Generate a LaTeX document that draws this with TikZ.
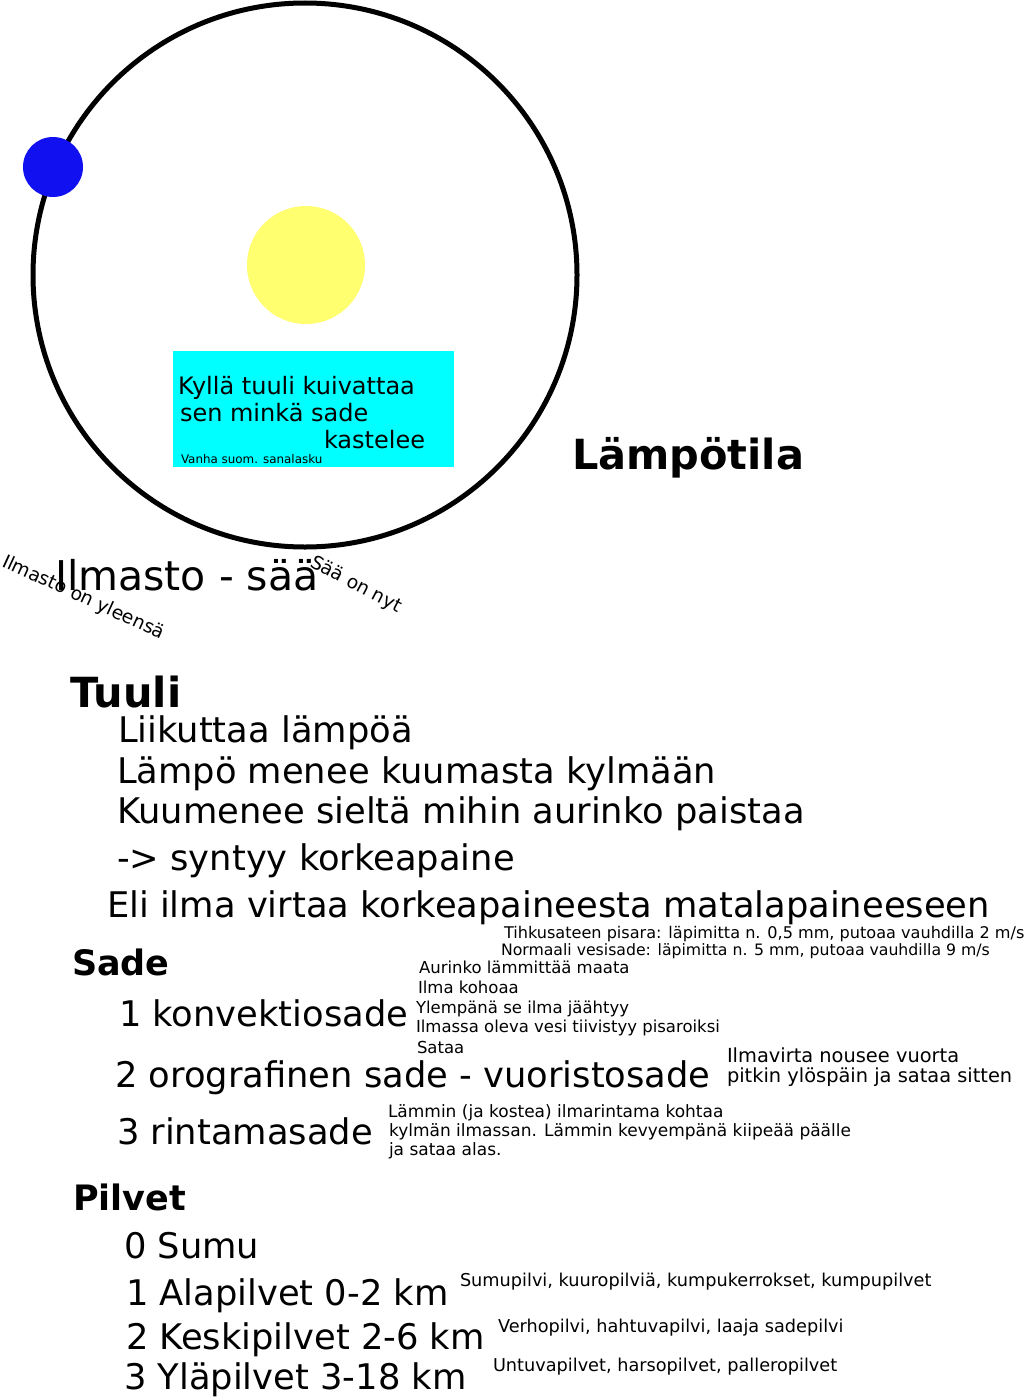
\documentclass[tikz,border=0pt]{standalone}
\usepackage{fontspec}
\setmainfont{DejaVu Sans}
\newcommand\fsz[1]{\fontsize{#1}{#1}\selectfont}
\definecolor{planetblue}{RGB}{16,16,240}
\definecolor{sunyellow}{RGB}{255,255,112}
\definecolor{boxcyan}{RGB}{0,255,255}
\tikzset{
  txt/.style={anchor=base west, inner sep=0pt, outer sep=0pt},
  big/.style={txt, font=\fsz{35.3}},
  head/.style={txt, font=\fsz{41.5}\bfseries},
  subhead/.style={txt, font=\fsz{35}\bfseries},
  note/.style={txt, font=\fsz{16.5}},
  cloudnote/.style={txt, font=\fsz{17.7}},
}

\begin{document}
\begin{tikzpicture}[x=1pt, y=-1pt]
  \useasboundingbox[fill=white] (0,0) rectangle (1024,1397);

  % Orbit, planet and sun
  \draw[line width=5pt] (305,275) circle[radius=272pt];
  \fill[planetblue] (53,167) circle[radius=30pt];
  \fill[sunyellow] (306,265) circle[radius=59pt];

  % Saying box
  \fill[boxcyan] (173,351) rectangle (454,467);
  \node[txt, font=\fsz{24}] (say1) at (178,394) {Kyllä tuuli kuivattaa};
  \node[txt, font=\fsz{24}] (say2) at (180,421) {sen minkä sade};
  \node[txt, font=\fsz{24}] (say3) at (324,448) {kastelee};
  \node[txt, font=\fsz{11.9}] (sayref) at (181,463) {Vanha suom. sanalasku};

  \node[head] (temp) at (572,469) {Lämpötila};

  % Climate vs weather
  \node[txt, font=\fsz{41}] (climate) at (55,590) {Ilmasto - sää};
  \node[txt, font=\fsz{18.7}, rotate=-24.6] (clim) at (1,566) {Ilmasto on yleensä};
  \node[txt, font=\fsz{18.7}, rotate=-27.8] (weath) at (309,566) {Sää on nyt};

  % Wind
  \node[head] (wind) at (70,707) {Tuuli};
  \node[big] (w1) at (118,742) {Liikuttaa lämpöä};
  \node[big] (w2) at (117,783) {Lämpö menee kuumasta kylmään};
  \node[big] (w3) at (117,823) {Kuumenee sieltä mihin aurinko paistaa};
  \node[big] (w4) at (117,870) {-> syntyy korkeapaine};
  \node[big] (w5) at (107,917) {Eli ilma virtaa korkeapaineesta matalapaineeseen};

  % Rain
  \node[subhead] (rain) at (72,975) {Sade};
  \node[note, font=\fsz{16.1}] (drop1) at (504,938) {Tihkusateen pisara: läpimitta n. 0,5 mm, putoaa vauhdilla 2 m/s};
  \node[note, font=\fsz{15.7}] (drop2) at (501,955) {Normaali vesisade: läpimitta n. 5 mm, putoaa vauhdilla 9 m/s};
  \node[note] (c1) at (419,973) {Aurinko lämmittää maata};
  \node[note] (c2) at (418,993) {Ilma kohoaa};
  \node[note] (c3) at (416,1013) {Ylempänä se ilma jäähtyy};
  \node[note] (c4) at (416,1032) {Ilmassa oleva vesi tiivistyy pisaroiksi};
  \node[note] (c5) at (417,1053) {Sataa};
  \node[big] (r1) at (119,1026) {1 konvektiosade};
  \node[big] (r2) at (115,1087) {2 orografinen sade - vuoristosade};
  \node[txt, font=\fsz{19.4}] (o1) at (727,1062) {Ilmavirta nousee vuorta};
  \node[txt, font=\fsz{19.4}] (o2) at (727,1082) {pitkin ylöspäin ja sataa sitten};
  \node[big] (r3) at (117,1144) {3 rintamasade};
  \node[note, font=\fsz{17}] (f1) at (388,1117) {Lämmin (ja kostea) ilmarintama kohtaa};
  \node[note, font=\fsz{17}] (f2) at (389,1136) {kylmän ilmassan. Lämmin kevyempänä kiipeää päälle};
  \node[note, font=\fsz{17}] (f3) at (389,1155) {ja sataa alas.};

  % Clouds
  \node[subhead] (cloud) at (73,1210) {Pilvet};
  \node[big] (p0) at (124,1258) {0 Sumu};
  \node[big] (p1) at (126,1305) {1 Alapilvet 0-2 km};
  \node[big] (p2) at (126,1349) {2 Keskipilvet 2-6 km};
  \node[big] (p3) at (124,1389) {3 Yläpilvet 3-18 km};
  \node[cloudnote] (n1) at (460,1286) {Sumupilvi, kuuropilviä, kumpukerrokset, kumpupilvet};
  \node[cloudnote] (n2) at (498,1332) {Verhopilvi, hahtuvapilvi, laaja sadepilvi};
  \node[cloudnote] (n3) at (493,1371) {Untuvapilvet, harsopilvet, palleropilvet};
\end{tikzpicture}
\end{document}
